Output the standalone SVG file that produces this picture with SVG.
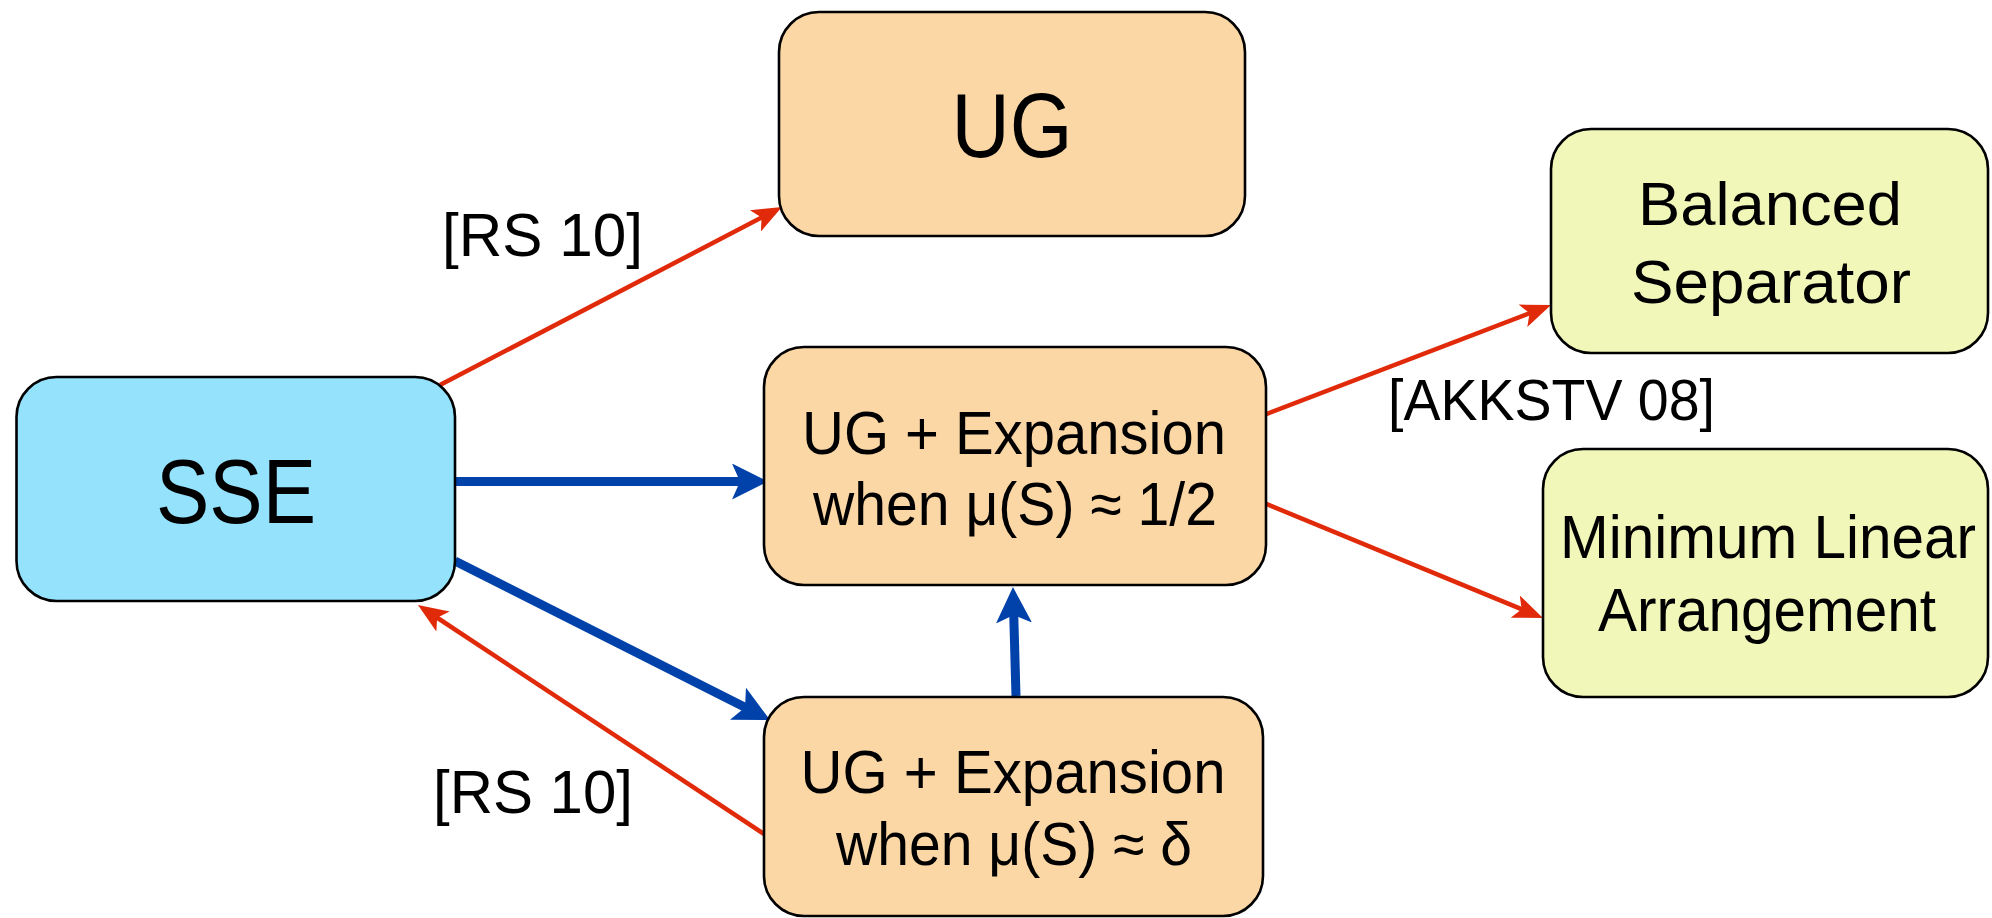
<svg xmlns="http://www.w3.org/2000/svg" width="1992" height="918" viewBox="0 0 1992 918">
<style>
.box{stroke:#000;stroke-width:2.6}
.orange{fill:#fcd7a6}
.blue{fill:#95e2fc}
.yellow{fill:#f1f6b9}
text{font-family:"Liberation Sans",Arial,Helvetica,sans-serif;fill:#000;text-anchor:middle}
.lbl{text-anchor:start;font-size:62px}
.red{stroke:#e12a0a;stroke-width:4.5;fill:none;marker-end:url(#ar)}
.blu{stroke:#0042aa;stroke-width:9;fill:none;marker-end:url(#ab)}
</style>
<defs>
<marker id="ar" viewBox="0 0 30 24" refX="20" refY="12" markerWidth="30" markerHeight="24" markerUnits="userSpaceOnUse" orient="auto">
<path d="M0,0 L30,12 L0,24 L7,12 z" fill="#e12a0a"/>
</marker>
<marker id="ab" viewBox="0 0 36 36" refX="24" refY="18" markerWidth="36" markerHeight="36" markerUnits="userSpaceOnUse" orient="auto">
<path d="M0,0 L36,18 L0,36 L8,18 z" fill="#0042aa"/>
</marker>
</defs>
<rect width="1992" height="918" fill="#fff"/>
<g id="connectors">
<line class="red" x1="440" y1="385" x2="773.1" y2="211.6"/>
<line class="red" x1="1264" y1="415" x2="1541.7" y2="308.6"/>
<line class="red" x1="1264" y1="503" x2="1533.7" y2="614.2"/>
<line class="red" x1="767" y1="836" x2="426.3" y2="610.5"/>
<line class="blu" x1="455" y1="481.5" x2="756" y2="481.5"/>
<line class="blu" x1="455" y1="561" x2="759.3" y2="714.6"/>
<line class="blu" x1="1016" y1="696" x2="1013.3" y2="599"/>
</g>
<g id="labels">
<text class="lbl" x="442" y="256" textLength="201" lengthAdjust="spacingAndGlyphs">[RS 10]</text>
<text class="lbl" x="433" y="813" textLength="200" lengthAdjust="spacingAndGlyphs">[RS 10]</text>
<text class="lbl" x="1388" y="420" style="font-size:57px" textLength="327" lengthAdjust="spacingAndGlyphs">[AKKSTV 08]</text>
</g>
<g id="sse">
<rect class="box blue" x="16.5" y="377" width="438.5" height="224" rx="40"/>
<text x="236" y="523" style="font-size:90px" textLength="160" lengthAdjust="spacingAndGlyphs">SSE</text>
</g>
<g id="ug">
<rect class="box orange" x="779" y="12" width="466" height="224" rx="40"/>
<text x="1012" y="157" style="font-size:90px" textLength="121" lengthAdjust="spacingAndGlyphs">UG</text>
</g>
<g id="ug-half">
<rect class="box orange" x="764" y="347" width="502" height="238" rx="40"/>
<text x="1014" y="454" style="font-size:61px" textLength="424" lengthAdjust="spacingAndGlyphs">UG + Expansion</text>
<text x="1015" y="525" style="font-size:61px" textLength="404" lengthAdjust="spacingAndGlyphs">when μ(S) ≈ 1/2</text>
</g>
<g id="ug-delta">
<rect class="box orange" x="764" y="697" width="499" height="219" rx="40"/>
<text x="1013" y="793" style="font-size:61px" textLength="425" lengthAdjust="spacingAndGlyphs">UG + Expansion</text>
<text x="1014" y="865" style="font-size:61px" textLength="356" lengthAdjust="spacingAndGlyphs">when μ(S) ≈ δ</text>
</g>
<g id="balanced">
<rect class="box yellow" x="1551" y="129" width="437" height="224" rx="40"/>
<text x="1770" y="225" style="font-size:62px" textLength="264" lengthAdjust="spacingAndGlyphs">Balanced</text>
<text x="1771" y="303" style="font-size:62px" textLength="280" lengthAdjust="spacingAndGlyphs">Separator</text>
</g>
<g id="minlin">
<rect class="box yellow" x="1543" y="449" width="445" height="248" rx="40"/>
<text x="1768" y="558" style="font-size:62px" textLength="416" lengthAdjust="spacingAndGlyphs">Minimum Linear</text>
<text x="1767" y="631" style="font-size:62px" textLength="338" lengthAdjust="spacingAndGlyphs">Arrangement</text>
</g>
</svg>
